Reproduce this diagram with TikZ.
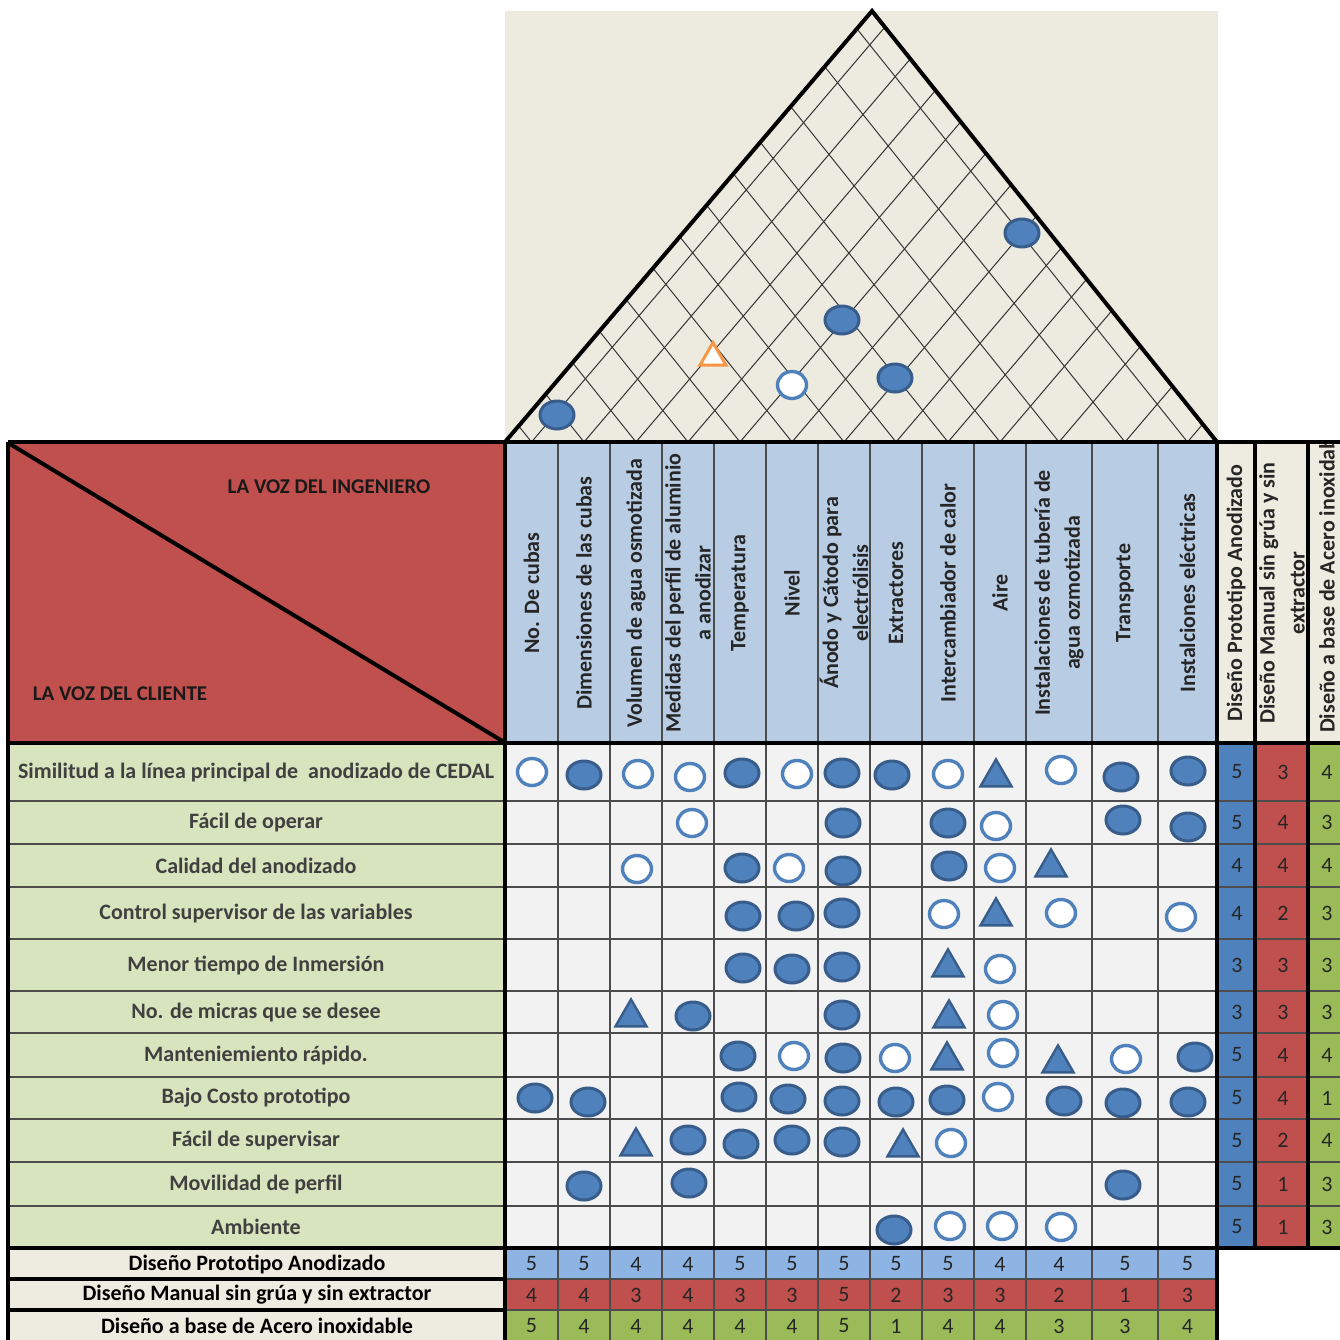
\documentclass[tikz,border=0pt]{standalone}
\usepackage{fontspec}
\setmainfont{Carlito}
\usetikzlibrary{shapes.geometric}

\definecolor{techo}{HTML}{EDEBE0}
\definecolor{rojo}{HTML}{C0504D}
\definecolor{celeste}{HTML}{B8CCE4}
\definecolor{celeste2}{HTML}{8DB4E2}
\definecolor{verdeclaro}{HTML}{D7E4BD}
\definecolor{gris}{HTML}{F2F2F2}
\definecolor{crema}{HTML}{EEECE1}
\definecolor{azul}{HTML}{4F81BD}
\definecolor{azulosc}{HTML}{385D8A}
\definecolor{verde}{HTML}{9BBB59}
\definecolor{naranja}{HTML}{F79646}
\definecolor{texto}{HTML}{404040}

\tikzset{
  fuerte/.style={ellipse,draw=azulosc,line width=1.5pt,fill=azul,minimum width=17pt,minimum height=14pt,inner sep=0pt},
  medio/.style={ellipse,draw=azul,line width=1.7pt,fill=white,minimum width=14.5pt,minimum height=13.5pt,inner sep=0pt},
  debil/.style={regular polygon,regular polygon sides=3,draw=azulosc,line width=1.2pt,fill=azul,minimum size=18pt,inner sep=0pt,yshift=-2.2pt},
  negativo/.style={regular polygon,regular polygon sides=3,draw=naranja,line width=1.5pt,fill=white,minimum size=15pt,inner sep=0pt,yshift=-1.8pt},
  rejilla/.style={line width=0.5pt,black!80},
  fina/.style={line width=0.6pt,black!70},
  gruesa/.style={line width=1.6pt,black},
  cabecera/.style={rotate=90,align=center,font=\bfseries\fontsize{11}{15}\selectfont,text=black!85},
  requisito/.style={font=\bfseries\fontsize{11}{13}\selectfont,text=texto},
  diseno/.style={font=\bfseries\fontsize{11}{13}\selectfont,text=black},
  voz/.style={font=\bfseries\fontsize{10.5}{12}\selectfont,text=black!90},
  cifra/.style={font=\fontsize{11}{13}\selectfont,text=black!85},
}

\begin{document}
\begin{tikzpicture}[x=0.5pt,y=-0.5pt]
\useasboundingbox (0,0) rectangle (1340,1340);
\clip (0,0) rectangle (1340,1340);
\fill[white] (0,0) rectangle (1340,1340);
% techo
\fill[techo] (505,11) rectangle (1218,442);
\begin{scope}
\clip (505,442) -- (872,11) -- (1217,442) -- cycle;
\foreach \c in {531.5,584,636,688,740,792,844,896,948,1000,1059,1125,1187.5}{
  \draw[rejilla] (\c,442) -- ++(500,-587);
  \draw[rejilla] (\c,442) -- ++(-500,-625);
}
\end{scope}
\draw[line width=2pt] (505,442) -- (872,11) -- (1217,442);
\foreach \x/\y/\s [count=\i] in {557/415/fuerte,842/320/fuerte,895/378/fuerte,1022/233/fuerte,792/385/medio,713/354/negativo}
  \node[\s] (t\i) at (\x,\y) {};

% cabecera
\fill[rojo] (8,442) rectangle (505,743);
\fill[celeste] (505,442) rectangle (1217,743);
\fill[crema] (1217,442) rectangle (1340,743);
\draw[line width=2pt] (10,444) -- (504,742);
\node[voz] (ing) at (329,487) {LA VOZ DEL INGENIERO};
\node[voz] (cli) at (120,694) {LA VOZ DEL CLIENTE};
\foreach \x/\t [count=\i] in {531.5/{No. De cubas},584/{Dimensiones de las cubas},636/{Volumen de agua osmotizada},
  688/{Medidas del perfil de aluminio\\a anodizar},740/{Temperatura},792/{Nivel},844/{Ánodo y Cátodo para\\electrólisis},
  896/{Extractores},948/{Intercambiador de calor},1000/{Aire},1059/{Instalaciones de tubería de\\agua ozmotizada},
  1125/{Transporte},1187.5/{Instalciones eléctricas}}
  \node[cabecera] (h\i) at (\x,593) {\t};
\node[cabecera] (d1) at (1236,593) {Diseño Prototipo Anodizado};
\node[cabecera] (d2) at (1282,593) {Diseño Manual sin grúa y sin\\extractor};
\begin{scope}
\clip (1308,442) rectangle (1340,743);
\node[cabecera,anchor=west] (d3) at (1327,740) {Diseño a base de Acero inoxidable};
\end{scope}

% cuerpo
\fill[verdeclaro] (8,743) rectangle (505,1248);
\fill[gris] (505,743) rectangle (1217,1248);
\fill[azul] (1217,743) rectangle (1255,1248);
\fill[rojo] (1255,743) rectangle (1308,1248);
\fill[verde] (1308,743) rectangle (1340,1248);
\fill[crema] (8,1248) rectangle (505,1340);
\fill[celeste2] (505,1248) rectangle (1217,1279);
\fill[rojo] (505,1279) rectangle (1217,1310);
\fill[verde] (505,1310) rectangle (1217,1340);
\foreach \y in {801,844,887,939,991,1033,1077,1119,1162,1206}
  \draw[fina] (8,\y) -- (1340,\y);
\foreach \y in {1279,1310}
  \draw[fina] (505,\y) -- (1217,\y);
\foreach \x in {558,610,662,714,766,818,870,922,974,1026,1092,1158}
  \draw[fina] (\x,442) -- (\x,1340);

\foreach \y/\t [count=\i] in {772/{Similitud a la línea principal de\ \ anodizado de CEDAL},822.5/{Fácil de operar},
  865.5/{Calidad del anodizado},913/{Control supervisor de las variables},965/{Menor tiempo de Inmersión},
  1012/{No. de micras que se desee},1055/{Manteniemiento rápido.},1098/{Bajo Costo prototipo},
  1140.5/{Fácil de supervisar},1184/{Movilidad de perfil},1227/{Ambiente}}
  \node[requisito] (r\i) at (256,\y) {\t};
\foreach \y/\a/\b/\c [count=\i] in {772/5/3/4,822.5/5/4/3,865.5/4/4/4,913/4/2/3,965/3/3/3,1012/3/3/3,
  1055/5/4/4,1098/5/4/1,1140.5/5/2/4,1184/5/1/3,1227/5/1/3}{
  \node[cifra] (pa\i) at (1237,\y) {\a};
  \node[cifra] (pb\i) at (1283,\y) {\b};
  \node[cifra] (pc\i) at (1327,\y) {\c};
}
\node[diseno] (e1) at (257,1264) {Diseño Prototipo Anodizado};
\node[diseno] (e2) at (257,1295) {Diseño Manual sin grúa y sin extractor};
\node[diseno] (e3) at (257,1326) {Diseño a base de Acero inoxidable};
\foreach \x/\a/\b/\c [count=\i] in {531.5/5/4/5,584/5/4/4,636/4/3/4,688/4/4/4,740/5/3/4,792/5/3/4,844/5/5/5,
  896/5/2/1,948/5/3/4,1000/4/3/4,1059/4/2/3,1125/5/1/3,1187.5/5/3/4}{
  \node[cifra] (qa\i) at (\x,1264) {\a};
  \node[cifra] (qb\i) at (\x,1295) {\b};
  \node[cifra] (qc\i) at (\x,1326) {\c};
}

% relaciones
\foreach \x/\y/\s [count=\i] in {
  532/772/medio,584/775/fuerte,638/774/medio,690/777/medio,742/773/fuerte,797/774/medio,842/773/fuerte,
  892/775/fuerte,948/774/medio,996/773/debil,1061/770/medio,1121/777/fuerte,1188/771/fuerte,
  692/823/medio,843/823/fuerte,948/823/fuerte,996/826/medio,1123/820/fuerte,1188/827/fuerte,
  637/869/medio,742/868/fuerte,789/868/medio,843/871/fuerte,949/866/fuerte,1000/868/medio,1051/863/debil,
  743/916/fuerte,796/916/fuerte,842/913/fuerte,944/914/medio,996/912/debil,1061/913/medio,1181/917/medio,
  743/968/fuerte,792/969/fuerte,842/967/fuerte,948/963/debil,1000/969/medio,
  631/1013/debil,693/1016/fuerte,842/1015/fuerte,949/1014/debil,1003/1015/medio,
  738/1056/fuerte,794/1056/medio,843/1058/fuerte,895/1058/medio,947/1056/debil,1003/1053/medio,
  1058/1059/debil,1126/1059/medio,1195/1057/fuerte,
  535/1098/fuerte,588/1102/fuerte,739/1097/fuerte,788/1099/fuerte,842/1101/fuerte,896/1102/fuerte,
  947/1100/fuerte,998/1097/medio,1064/1101/fuerte,1123/1103/fuerte,1188/1102/fuerte,
  636/1142/debil,688/1140/fuerte,741/1144/fuerte,792/1140/fuerte,842/1142/fuerte,903/1143/debil,951/1143/medio,
  584/1186/fuerte,689/1183/fuerte,1123/1185/fuerte,
  894/1230/fuerte,950/1226/medio,1002/1226/medio,1061/1227/medio}
  \node[\s] (m\i) at (\x,\y) {};

% bordes
\draw[gruesa] (8,442) -- (1340,442);
\draw[gruesa] (8,743) -- (1340,743);
\draw[gruesa] (8,442) -- (8,1340);
\draw[gruesa] (505,442) -- (505,1340);
\draw[gruesa] (1217,442) -- (1217,1340);
\draw[gruesa] (1255,442) -- (1255,1248);
\draw[gruesa] (1308,442) -- (1308,1248);
\draw[gruesa] (8,1248) -- (1340,1248);
\draw[gruesa] (8,1279) -- (505,1279);
\draw[gruesa] (8,1310) -- (505,1310);
\end{tikzpicture}
\end{document}
